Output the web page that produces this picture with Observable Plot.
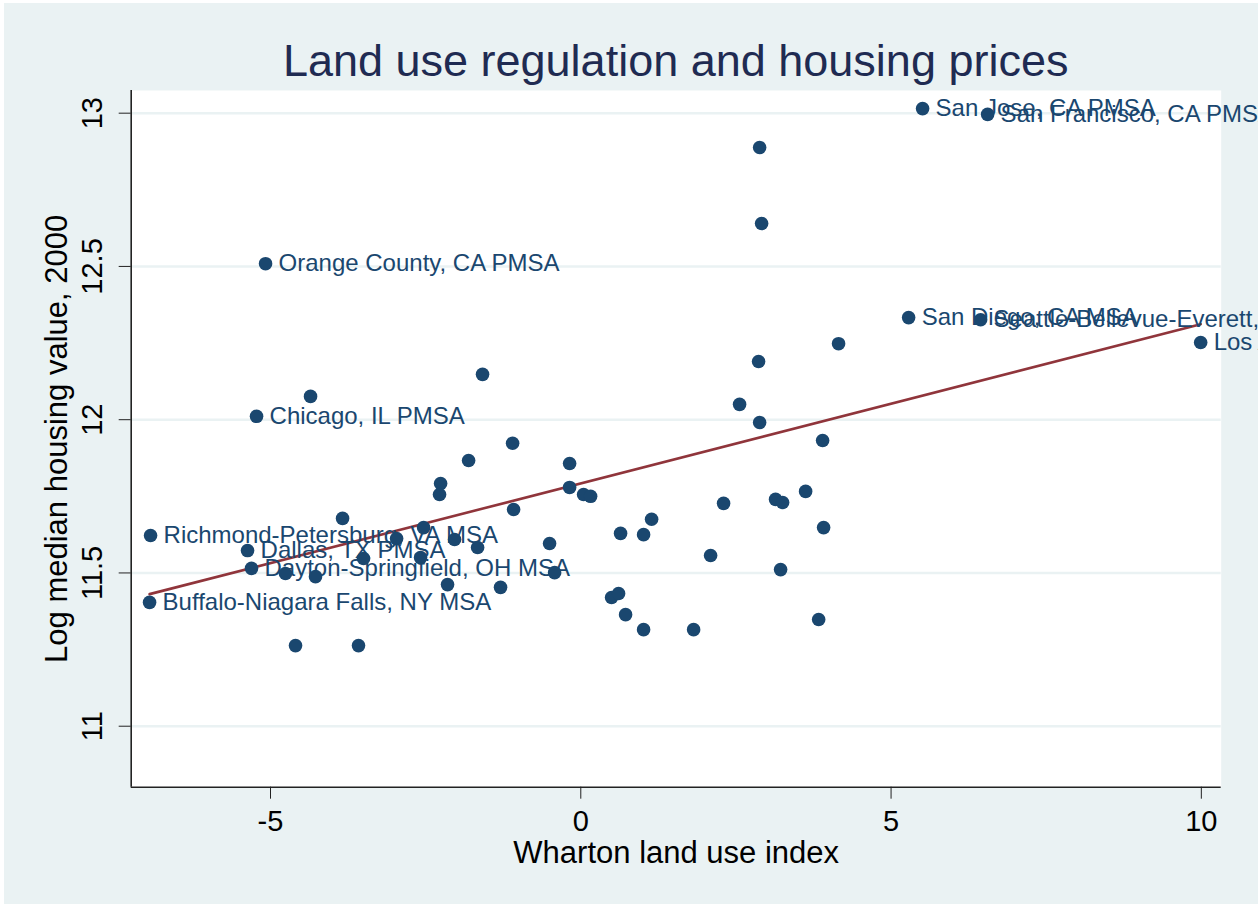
<!DOCTYPE html>
<html><head><meta charset="utf-8">
<script src="https://cdn.jsdelivr.net/npm/d3@7"></script>
<script src="https://cdn.jsdelivr.net/npm/@observablehq/plot@0.6"></script>
<style>
body{margin:0;background:#fff;font-family:"Liberation Sans",Arial,sans-serif;overflow:hidden;}
#bg{position:absolute;left:4px;top:3px;width:1254px;height:901px;background:#eaf2f3;}
#title{position:absolute;left:130.7px;width:1090px;top:38px;text-align:center;font-size:45px;line-height:45px;color:#1f2b52;}
#chart{position:absolute;left:0;top:90px;}
</style></head><body>
<div id="bg"></div>
<div id="title">Land use regulation and housing prices</div>
<div id="chart"></div>
<script>
const metro = ["San Jose, CA PMSA","San Francisco, CA PMSA","","","Orange County, CA PMSA","San Diego, CA MSA","Seattle-Bellevue-Everett, WA PMSA","","Los Angeles-Long Beach, CA PMSA","","","","Chicago, IL PMSA","","","","","","","","","","","","","","","","","","","","","Richmond-Petersburg, VA MSA","","","","","","","Dallas, TX PMSA","","","","Dayton-Springfield, OH MSA","","","","","","","Buffalo-Niagara Falls, NY MSA","","","","","","","",""];
const whartonIndex = [5.508,6.556,2.882,2.914,-5.080,5.283,6.443,4.154,9.989,2.865,-1.583,-4.355,-5.225,2.559,2.882,-1.099,3.897,-1.808,-0.180,-2.259,-2.276,-0.180,0.045,0.158,-1.083,3.623,3.139,3.252,2.301,-3.839,1.141,3.913,-2.533,-6.933,-2.968,-2.034,-1.663,-0.503,0.641,1.012,-5.370,-3.501,-2.582,2.092,-5.306,-4.759,-4.275,-0.422,3.220,-2.147,-1.293,-6.949,0.496,0.609,0.722,1.012,1.818,3.833,-4.597,-3.582];
const logValue = [13.015,12.996,12.888,12.640,12.509,12.333,12.326,12.248,12.252,12.190,12.148,12.076,12.011,12.050,11.991,11.923,11.932,11.867,11.857,11.792,11.756,11.779,11.756,11.750,11.707,11.766,11.740,11.730,11.727,11.678,11.675,11.648,11.648,11.622,11.612,11.609,11.583,11.596,11.629,11.625,11.573,11.547,11.550,11.557,11.515,11.498,11.488,11.501,11.511,11.462,11.453,11.404,11.420,11.433,11.364,11.315,11.315,11.348,11.263,11.263];
const xTicks = [-5, 0, 5, 10];
const yTicks = [11, 11.5, 12, 12.5, 13];
const xDomain = [-7.245, 10.32];
const yDomain = [10.801, 13.074];

const data = whartonIndex.map((x, i) => ({x, y: logValue[i], name: metro[i]}));
const navy = "#1a476f";

const chart = Plot.plot({
  width: 1258, height: 817,
  marginLeft: 130.7, marginRight: 37.3, marginTop: 0, marginBottom: 120.3,
  style: {background: "transparent", fontFamily: "Liberation Sans, Arial, sans-serif", overflow: "visible"},
  x: {domain: xDomain},
  y: {domain: yDomain},
  marks: [
    Plot.frame({fill: "white", stroke: null}),
    Plot.gridY(yTicks, {stroke: "#eaf2f3", strokeOpacity: 1, strokeWidth: 2.5}),
    Plot.ruleX([xDomain[0]], {stroke: "#222", strokeWidth: 1.6}),
    Plot.ruleY([yDomain[0]], {stroke: "#222", strokeWidth: 1.6}),
    Plot.axisX(xTicks, {tickSize: 12, tickPadding: 11, fontSize: 29, label: null, stroke: "#222", fill: "black", tickFormat: d => String(d)}),
    Plot.axisY(yTicks, {tickSize: 12, tickFormat: () => "", label: null, stroke: "#222"}),
    Plot.text(yTicks, {y: d => d, text: d => String(d), frameAnchor: "left", textAnchor: "middle", dx: -38, rotate: -90, fontSize: 29, fill: "black"}),
    Plot.text(["Wharton land use index"], {text: d => d, frameAnchor: "bottom", textAnchor: "middle", dy: 76, fontSize: 31, fill: "black"}),
    Plot.text(["Log median housing value, 2000"], {text: d => d, frameAnchor: "left", textAnchor: "middle", dx: -74, rotate: -90, fontSize: 31, fill: "black"}),
    Plot.linearRegressionY(data, {x: "x", y: "y", stroke: "#90353b", strokeWidth: 2.6, ci: 0}),
    Plot.dot(data, {x: "x", y: "y", r: 6.8, fill: navy, stroke: null}),
    Plot.text(data.filter(d => d.name), {x: "x", y: "y", text: "name", textAnchor: "start", dx: 13, fontSize: 24, fill: navy})
  ]
});
document.getElementById("chart").appendChild(chart);
</script>
</body></html>
